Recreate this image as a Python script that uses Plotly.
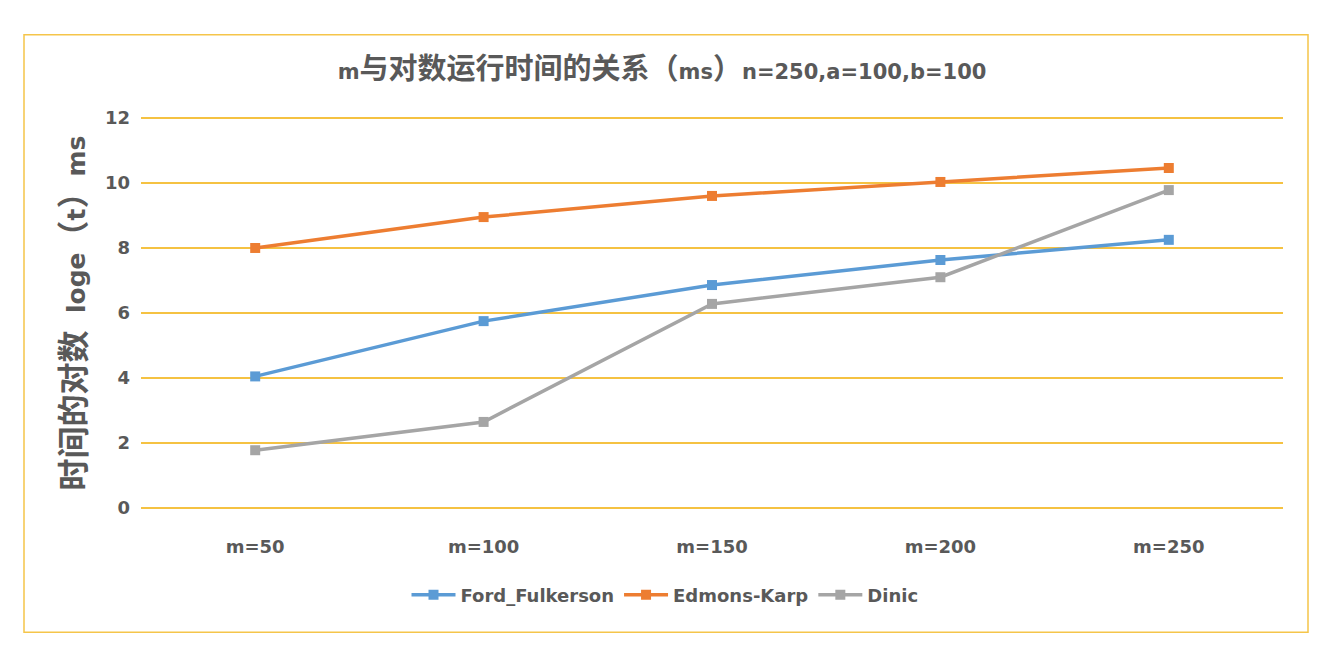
import plotly.graph_objects as go

categories = ["m=50", "m=100", "m=150", "m=200", "m=250"]
ford_fulkerson = [4.05, 5.75, 6.86, 7.63, 8.25]
edmonds_karp = [8.0, 8.95, 9.6, 10.03, 10.46]
dinic = [1.78, 2.65, 6.28, 7.1, 9.78]
series_names = ["Ford_Fulkerson", "Edmons-Karp", "Dinic"]
colors = ["#5B9BD5", "#ED7D31", "#A5A5A5"]
y_ticks = [0, 2, 4, 6, 8, 10, 12]

FONT = "'DejaVu Sans', 'Noto Sans CJK SC', sans-serif"
GREY = "#595959"

fig = go.Figure()
for name, vals, c in zip(series_names, [ford_fulkerson, edmonds_karp, dinic], colors):
    fig.add_trace(go.Scatter(
        x=categories, y=vals, name=name, mode="lines+markers",
        line=dict(color=c, width=3.5),
        marker=dict(symbol="square", size=10, color=c),
    ))

# page offset (body margin) compensation
OFF = 8
W, H = 1334, 665
Y0_PX, Y12_PX = 508 - OFF, 118 - OFF      # screen pixel of y=0 and y=12
X_LEFT, X_RIGHT = 141 - OFF, 1283 - OFF
pad = 0.12
unit = (Y0_PX - Y12_PX) / 12.0
T = Y12_PX - pad * unit
B = H - (Y0_PX + pad * unit)
L, R = X_LEFT, W - X_RIGHT
pw = W - L - R
ph = H - T - B


def px_x(p):
    return (p - OFF - L) / pw


def px_y(p):
    return (H - B - (p - OFF)) / ph


def cjk(s, size):
    return f'<span style="font-size:{size}px">{s}</span>'


title_text = ("<b>m" + cjk("与对数运行时间的关系（", 29) + "ms" + cjk("）", 29)
              + "n=250,a=100,b=100</b>")
ytitle_text = ("<b>" + cjk("时间的对数", 32) + "  loge" + cjk("（", 32) + "t"
               + cjk("）", 32) + "ms</b>")

fig.update_layout(
    width=W, height=H,
    margin=dict(l=L, r=R, t=T, b=B),
    paper_bgcolor="white", plot_bgcolor="white",
    font=dict(family=FONT, color=GREY),
    title=dict(
        text=title_text,
        x=px_x(662), xref="paper", xanchor="center",
        y=1 - (72 - OFF) / H, yref="container", yanchor="middle",
        font=dict(size=21, color=GREY, family=FONT),
    ),
    xaxis=dict(
        type="category", range=[-0.5, 4.5], showgrid=False, showline=False,
        zeroline=False, ticks="",
        tickfont=dict(size=18, color=GREY, family=FONT, weight="bold"),
        ticklabelstandoff=22,
    ),
    yaxis=dict(
        range=[-pad, 12 + pad], tickvals=y_ticks, showgrid=True,
        gridcolor="#F5C242", gridwidth=1.5, zeroline=False, showline=False,
        ticks="", tickfont=dict(size=18, color=GREY, family=FONT, weight="bold"),
        ticklabelstandoff=10,
        title=dict(text=ytitle_text,
                   font=dict(size=25, color=GREY, family=FONT), standoff=12),
    ),
    legend=dict(
        orientation="h", x=px_x(665), xanchor="center", xref="paper",
        y=px_y(595), yanchor="middle",
        font=dict(size=18, color=GREY, family=FONT, weight="bold"),
        itemwidth=44, tracegroupgap=0,
    ),
    shapes=[dict(
        type="rect", xref="paper", yref="paper",
        x0=px_x(24), x1=px_x(1308), y0=px_y(632), y1=px_y(35),
        line=dict(color="#F5C54A", width=1.5), fillcolor="rgba(0,0,0,0)",
        layer="below",
    )],
)

fig.write_html("out.html")
